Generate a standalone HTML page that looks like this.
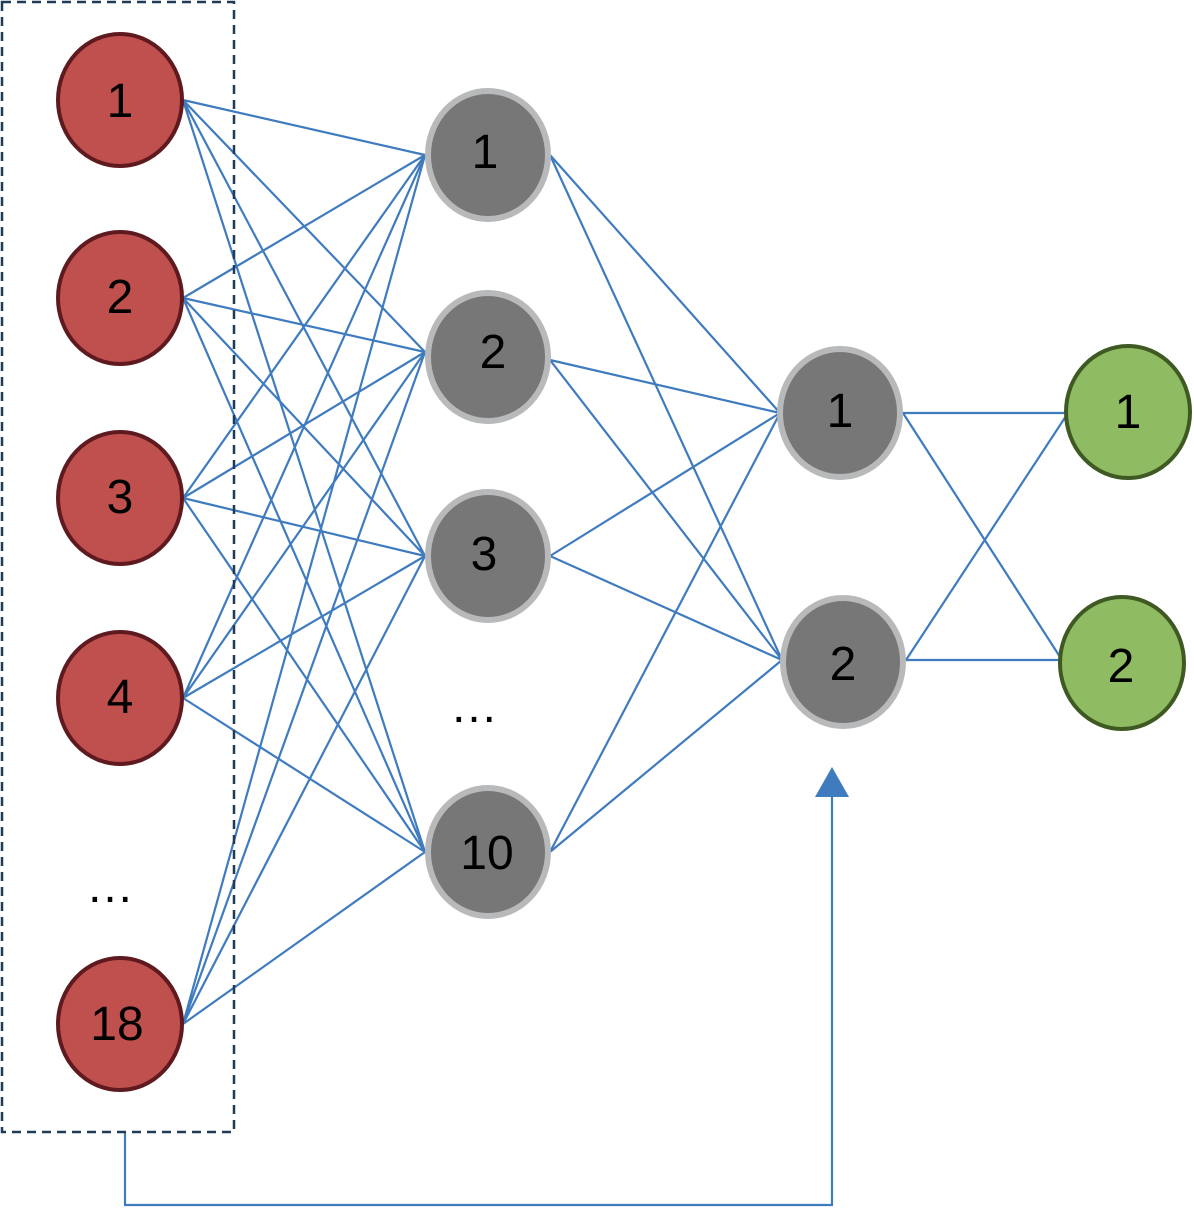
<!DOCTYPE html>
<html><head><meta charset="utf-8"><style>body{margin:0;background:#fff}svg{display:block}</style></head><body>
<svg width="1194" height="1208" viewBox="0 0 1194 1208" xmlns="http://www.w3.org/2000/svg">
<g stroke="#3f7bbf" stroke-width="2.2" fill="none">
<!-- input to hidden -->
<path d="M183 100L425 155M183 100L425 352M183 100L425 556M183 100L425 852
M183 298L425 155M183 298L425 352M183 298L425 556M183 298L425 852
M183 498L425 155M183 498L425 352M183 498L425 556M183 498L425 852
M183 698L425 155M183 698L425 352M183 698L425 556M183 698L425 852
M183 1024L425 155M183 1024L425 352M183 1024L425 556M183 1024L425 852"/>
<path d="M550 155L780 413M550 155L782 660M550 360L780 413M550 360L782 660M550 556L780 413M550 556L782 660M550 852L780 413M550 852L782 660"/>
<path d="M903 413L1068 413M903 413L1062 660M906 660L1068 413M906 660L1062 660"/>
<path d="M125 1132V1205H832V792"/>
</g>
<polygon points="815,797 849,797 832,767" fill="#3f7bbf"/>
<rect x="2" y="2" width="232" height="1130" fill="none" stroke="#1f3b57" stroke-width="2.5" stroke-dasharray="9,6"/>
<g fill="#c0504d" stroke="#5e1a1f" stroke-width="4">
<ellipse cx="120" cy="100" rx="62" ry="66"/>
<ellipse cx="120" cy="298" rx="62" ry="66"/>
<ellipse cx="120" cy="498" rx="62" ry="66"/>
<ellipse cx="120" cy="698" rx="62" ry="66"/>
<ellipse cx="120" cy="1024" rx="62" ry="66"/>
</g>
<g fill="#777777" stroke="#b8b9ba" stroke-width="6">
<ellipse cx="488" cy="155" rx="60" ry="64"/>
<ellipse cx="488" cy="357" rx="60" ry="64"/>
<ellipse cx="488" cy="556" rx="60" ry="64"/>
<ellipse cx="488" cy="852" rx="60" ry="64"/>
<ellipse cx="840" cy="413" rx="60" ry="64"/>
<ellipse cx="843" cy="662" rx="60" ry="64"/>
</g>
<g fill="#8fbb62" stroke="#3e5a22" stroke-width="4">
<ellipse cx="1128" cy="412" rx="62" ry="66"/>
<ellipse cx="1122" cy="663" rx="62" ry="66"/>
</g>
<g font-family="Liberation Sans, sans-serif" font-size="48" text-anchor="middle" fill="#000">
<text x="120" y="117">1</text>
<text x="120" y="313">2</text>
<text x="120" y="513">3</text>
<text x="120" y="713">4</text>
<text x="117" y="1040">18</text>
<text x="485" y="168">1</text>
<text x="493" y="368">2</text>
<text x="484" y="570">3</text>
<text x="487" y="869">10</text>
<text x="840" y="427">1</text>
<text x="843" y="680">2</text>
<text x="1128" y="428">1</text>
<text x="1121" y="682">2</text>
<text x="474" y="722">…</text>
<text x="110" y="902">…</text>
</g>
</svg>
</body></html>
